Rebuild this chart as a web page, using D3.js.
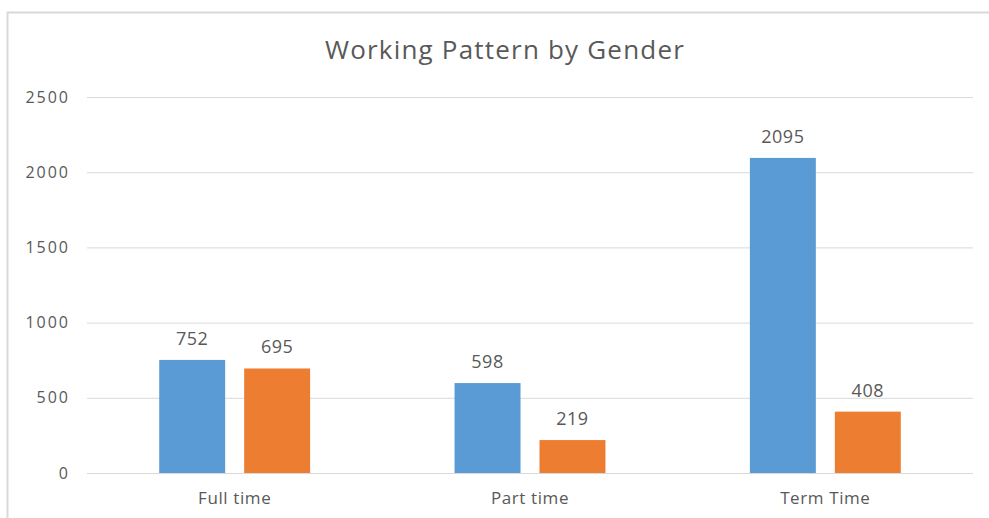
<!DOCTYPE html>
<html>
<head>
<meta charset="utf-8">
<script src="https://cdn.jsdelivr.net/npm/d3@7"></script>
<style>
  body { margin: 0; background: #fff; }
  text { font-family: "Open Sans", sans-serif; fill: #595959; }
</style>
</head>
<body>
<svg width="989" height="518"></svg>
<script>
const categories = ['Full time', 'Part time', 'Term Time'];
const seriesNames = ['Male', 'Female'];
const series1 = [752, 598, 2095];
const series2 = [695, 219, 408];
const yTicks = [0, 500, 1000, 1500, 2000, 2500];
const colors = ['#5b9bd5', '#ed7d31'];

const svg = d3.select('svg');

// chart frame
svg.append('path')
  .attr('d', 'M7.5,518 V12.5 H989')
  .attr('fill', 'none')
  .attr('stroke', '#d9d9d9')
  .attr('stroke-width', 2);

svg.append('text')
  .attr('x', 505)
  .attr('y', 59)
  .attr('text-anchor', 'middle')
  .style('font-size', '26px')
  .style('letter-spacing', '1.2px')
  .text('Working Pattern by Gender');

const xScale = d3.scaleBand()
  .domain(categories)
  .range([87, 973]);

const inner = d3.scaleBand()
  .domain(seriesNames)
  .range([0, xScale.bandwidth()])
  .paddingInner(0.2235)
  .paddingOuter(0.85);

const yScale = d3.scaleLinear()
  .domain([0, 2500])
  .range([473, 97]);

const yAxis = d3.axisLeft()
  .scale(yScale)
  .tickValues(yTicks)
  .tickSize(-(973 - 87))
  .tickPadding(17)
  .tickFormat(d3.format('d'));

const yAxisG = svg.append('g')
  .attr('transform', 'translate(87,0)')
  .call(yAxis);
yAxisG.select('.domain').remove();
yAxisG.selectAll('line').attr('stroke', '#d9d9d9');
yAxisG.selectAll('text')
  .style('font-size', '16px')
  .style('letter-spacing', '2px')
  .attr('fill', '#595959');

const xAxis = d3.axisBottom()
  .scale(xScale)
  .tickSize(0)
  .tickPadding(19);

const xAxisG = svg.append('g')
  .attr('transform', 'translate(0,473)')
  .call(xAxis);
xAxisG.select('.domain').remove();
xAxisG.selectAll('text')
  .style('font-size', '17px')
  .style('letter-spacing', '0.6px')
  .attr('fill', '#595959');

const rows = categories.map((c, i) => ({
  category: c,
  values: [series1[i], series2[i]]
}));

const groups = svg.selectAll('g.group')
  .data(rows)
  .enter()
  .append('g')
  .attr('class', 'group')
  .attr('transform', d => 'translate(' + xScale(d.category) + ',0)');

groups.each(function(d) {
  const g = d3.select(this);
  d.values.forEach((v, j) => {
    g.append('rect')
      .attr('x', inner(seriesNames[j]))
      .attr('y', yScale(v))
      .attr('width', inner.bandwidth())
      .attr('height', yScale(0) - yScale(v))
      .attr('fill', colors[j]);
    g.append('text')
      .attr('x', inner(seriesNames[j]) + inner.bandwidth() / 2)
      .attr('y', yScale(v) - 15)
      .attr('text-anchor', 'middle')
      .style('font-size', '18px')
      .style('letter-spacing', '0.5px')
      .text(v);
  });
});
</script>
</body>
</html>
